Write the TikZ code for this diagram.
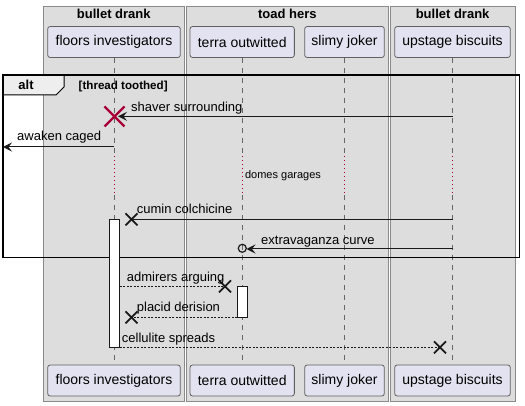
\documentclass[tikz,border=0pt]{standalone}
\usepackage{fontspec}
\setmainfont{Liberation Sans}
\usetikzlibrary{arrows.meta}
\definecolor{grpfill}{HTML}{DDDDDD}
\definecolor{grpdraw}{HTML}{8A8A8A}
\definecolor{partfill}{HTML}{E2E2F0}
\definecolor{partdraw}{HTML}{606060}
\definecolor{xred}{HTML}{A80036}
\definecolor{tabfill}{HTML}{EEEEEE}
\tikzset{
  grp/.style={draw=grpdraw, fill=grpfill, line width=1pt},
  grptitle/.style={font=\fontsize{13}{15}\selectfont\bfseries, anchor=base},
  part/.style={draw=partdraw, fill=partfill, rounded corners=2.5pt, line width=0.8pt,
    minimum height=31pt, inner sep=0pt, font=\fontsize{14}{16}\selectfont},
  lifeline/.style={draw=black!60, dash pattern=on 5pt off 5pt, line width=0.8pt},
  delayline/.style={draw=xred, dash pattern=on 1pt off 3pt, line width=0.9pt},
  msg/.style={draw=black!90, line width=1pt},
  rmsg/.style={msg, dash pattern=on 2pt off 1.5pt},
  arr/.style={-{Stealth[length=9pt,width=9pt,inset=3.5pt]}},
  lbl/.style={anchor=base west, inner sep=0pt, font=\fontsize{13}{15}\selectfont},
  actbar/.style={draw=black!90, fill=white, line width=1pt},
  xcross/.pic={\draw[black!90, line width=1.8pt] (-6,-6) -- (6,6) (-6,6) -- (6,-6);},
  redx/.pic={\draw[xred, line width=2.2pt] (-10,-10) -- (10,10) (-10,10) -- (10,-10);},
}
\begin{document}
\begin{tikzpicture}[x=1pt,y=-1pt]
\useasboundingbox (0,0) rectangle (525,406);
% groups
\draw[grp] (43.3,6.3) rectangle (184.3,401.3);
\draw[grp] (186,6.3) rectangle (388.7,401.3);
\draw[grp] (390.3,6.3) rectangle (515,401.3);
\node[grptitle] (g1) at (113.8,19) {bullet drank};
\node[grptitle] (g2) at (287.3,19) {toad hers};
\node[grptitle] (g3) at (452.6,19) {bullet drank};
% participants
\node[part, minimum width=132.6pt] (fiT) at (114,42) {floors investigators};
\node[part, minimum width=104.3pt] (toT) at (242.2,42) {terra outwitted};
\node[part, minimum width=79.6pt] (sjT) at (344.5,42) {slimy joker};
\node[part, minimum width=115.6pt] (ubT) at (452.5,42) {upstage biscuits};
\node[part, minimum width=132.6pt] (fiB) at (114,380.5) {floors investigators};
\node[part, minimum width=104.3pt] (toB) at (242.2,380.5) {terra outwitted};
\node[part, minimum width=79.6pt] (sjB) at (344.5,380.5) {slimy joker};
\node[part, minimum width=115.6pt] (ubB) at (452.5,380.5) {upstage biscuits};
% lifelines with delay
\foreach \p in {fi,to,sj,ub}{
  \coordinate (\p d1) at (\p T |- 0,156);
  \coordinate (\p d2) at (\p T |- 0,195);
  \draw[lifeline] (\p T.south) -- (\p d1);
  \draw[delayline] (\p d1) -- (\p d2);
  \draw[lifeline] (\p d2) -- (\p B.north);
}
\node[font=\fontsize{11}{13}\selectfont, inner sep=0pt] (delay) at (283,176) {domes garages};
% alt frame
\draw[line width=1pt, fill=tabfill] (3,75) -- (64,75) -- (64,87) -- (56,95) -- (3,95) -- cycle;
\node[font=\fontsize{13}{15}\selectfont\bfseries, anchor=base] (alt) at (26,90) {alt};
\node[font=\fontsize{11.6}{13}\selectfont\bfseries, anchor=base west, inner sep=0pt] (guard) at (78.5,90) {[thread toothed]};
\draw[line width=1.5pt] (3,75) rectangle (519.7,257.7);
% activations
\node[actbar, minimum width=10pt, minimum height=128pt, inner sep=0pt, anchor=north] (actfi) at (114.3,219.3) {};
\node[actbar, minimum width=10pt, minimum height=31pt, inner sep=0pt, anchor=north] (actto) at (242.7,286.3) {};
% messages
\coordinate (m1s) at (ubT |- 0,116.3);
\coordinate (m1e) at (118,116.3);
\draw[msg, arr] (m1s) -- (m1e);
\pic at (114.5,116.5) {redx};
\node[lbl] (l1) at (131,112) {shaver surrounding};

\coordinate (m2s) at (fiT |- 0,147);
\coordinate (m2e) at (3,147);
\draw[msg, arr] (m2s) -- (m2e);
\node[lbl] (l2) at (17,141) {awaken caged};

\coordinate (m3s) at (ubT |- 0,219.3);
\coordinate (m3e) at (131.5,219.3);
\draw[msg] (m3s) -- (m3e);
\pic at (m3e) {xcross};
\node[lbl] (l3) at (136.7,213.5) {cumin colchicine};

\coordinate (m4s) at (ubT |- 0,249);
\coordinate (m4e) at (246.5,249);
\draw[msg, arr] (m4s) -- (m4e);
\draw[black!90, line width=1.2pt] (242.3,248.3) circle (4pt);
\node[lbl] (l4) at (261,244.3) {extravaganza curve};

\coordinate (m5e) at (225,286.3);
\draw[rmsg] (actfi.east |- 0,286.3) -- (m5e);
\pic at (m5e) {xcross};
\node[lbl] (l5) at (126.7,281) {admirers arguing};

\coordinate (m6e) at (131.5,317.3);
\draw[rmsg] (actto.west |- 0,317.3) -- (m6e);
\pic at (m6e) {xcross};
\node[lbl] (l6) at (136.7,311.7) {placid derision};

\coordinate (m7e) at (440,347.3);
\draw[rmsg] (actfi.east |- 0,347.3) -- (m7e);
\pic at (m7e) {xcross};
\node[lbl] (l7) at (121.7,342.3) {cellulite spreads};
\end{tikzpicture}
\end{document}
